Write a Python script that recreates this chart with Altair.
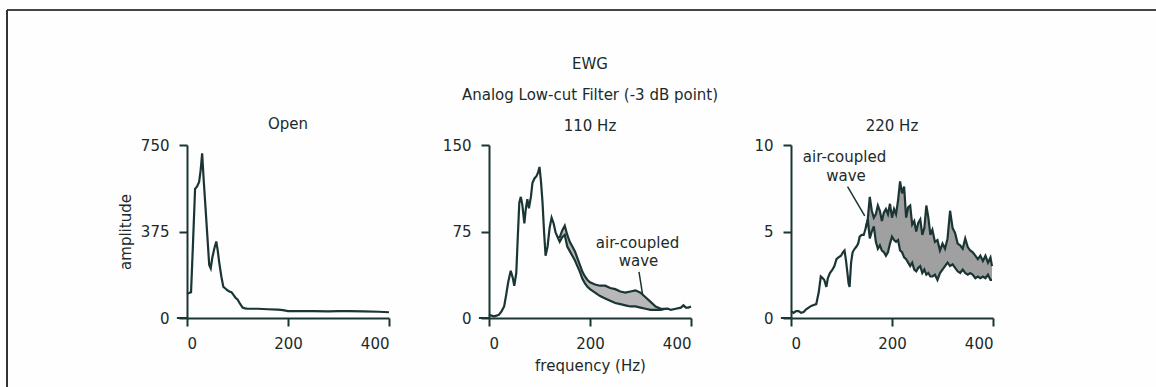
import altair as alt
import pandas as pd

# ---------------- data ----------------
open_freq = [0, 4, 8, 12, 16, 20, 24, 27, 30, 33, 36, 40, 44, 47, 50, 54, 58, 61, 64, 68, 72,
             76, 80, 84, 88, 92, 96, 100, 105, 110, 115, 120, 140, 160, 180, 190, 200, 220,
             250, 280, 300, 320, 350, 380, 400]
open_amp = [105, 108, 112, 330, 560, 570, 590, 640, 714, 600, 500, 365, 230, 215, 260, 300,
            332, 290, 238, 180, 135, 128, 120, 115, 112, 100, 88, 80, 62, 45, 42, 40, 40, 38,
            36, 34, 30, 30, 30, 29, 30, 30, 29, 27, 25]

# 110 Hz panel
f110_common_freq = [0, 5, 10, 15, 20, 25, 30, 34, 38, 43, 47, 50, 54, 57, 60, 63, 66, 70, 73,
                    76, 79, 83, 86, 90, 94, 97, 100, 103, 106, 109, 112, 116, 120, 124, 128,
                    132, 136]
f110_common_amp = [3, 2, 1.5, 2, 3, 6, 10, 20, 31, 41, 35, 28, 39, 70, 100, 105, 98, 82, 95,
                   103, 95, 105, 117, 121, 123, 126, 131, 118, 100, 75, 54, 62, 78, 87, 82,
                   74, 70]
f110_seg_freq = [140, 145, 150, 155, 160, 165, 170, 175, 180, 185, 190, 195, 200, 210, 220,
                 230, 240, 250, 260, 270, 280, 290, 300, 310, 320, 330, 340, 350]
f110_upper = [70, 76, 80, 72, 66, 62, 58, 52, 46, 40, 36, 33, 31, 29, 28, 28, 26, 25, 23, 22,
              23, 24, 22, 18, 14, 10, 8, 8]
f110_lower = [66, 70, 72, 62, 58, 54, 50, 45, 40, 34, 30, 27, 25, 22, 19, 17, 15, 13, 12, 11,
              10, 10, 9, 8, 7, 7, 7, 8]
f110_tail_freq = [355, 360, 370, 380, 385, 390, 395, 400]
f110_tail_amp = [8, 7, 8, 9, 11, 9, 9, 10]

# 220 Hz panel
f220_common_freq = [0, 5, 10, 15, 20, 25, 30, 35, 40, 45, 50, 55, 59, 63, 66, 70, 73, 77, 82,
                    86, 90, 94, 99, 103, 106, 109, 111, 114, 116, 119, 122, 126, 129, 133, 136,
                    140, 144, 148]
f220_common_amp = [0.4, 0.3, 0.4, 0.4, 0.3, 0.35, 0.5, 0.6, 0.7, 0.75, 0.8, 1.5, 2.4, 2.3, 2.2,
                   1.8, 2.3, 2.6, 2.8, 3.0, 3.4, 3.5, 3.6, 3.8, 3.9, 3.3, 2.8, 2.0, 1.8, 3.2,
                   3.8, 4.0, 4.1, 4.3, 4.7, 4.8, 4.8, 5.2]
f220_seg_freq = [152, 156, 160, 164, 168, 172, 176, 180, 184, 188, 192, 196, 200, 204, 208,
                 212, 216, 220, 224, 228, 232, 236, 240, 244, 248, 252, 256, 260, 264, 268,
                 272, 276, 280, 285, 290, 295, 300, 305, 310, 315, 320, 325, 330, 335, 340,
                 345, 350, 355, 360, 365, 370, 375, 380, 385, 390, 395, 398]
f220_upper = [5.7, 7.0, 6.2, 5.8, 6.0, 6.5, 6.2, 5.6, 6.1, 6.3, 6.0, 6.6, 5.8, 6.3, 6.0, 6.8,
              7.9, 7.2, 7.6, 5.8, 6.4, 6.5, 5.4, 5.6, 5.0, 5.5, 5.7, 4.8, 5.2, 6.5, 5.8, 4.8,
              5.1, 4.4, 4.5, 3.9, 4.3, 4.0, 4.6, 6.2, 5.2, 4.9, 4.3, 4.2, 4.0, 4.6, 4.1, 3.9,
              3.8, 3.6, 3.4, 3.6, 3.3, 3.6, 3.2, 3.5, 3.0]
f220_lower = [5.7, 4.6, 5.0, 5.3, 4.4, 4.0, 4.2, 3.9, 3.8, 3.6, 3.8, 4.3, 4.7, 4.5, 4.4, 4.5,
              3.9, 3.8, 3.5, 3.4, 3.2, 3.0, 3.2, 2.8, 2.7, 2.9, 3.0, 2.6, 2.8, 2.5, 2.6, 2.4,
              2.4, 2.5, 2.2, 2.6, 2.8, 3.0, 3.2, 3.0, 3.1, 2.9, 2.7, 2.6, 2.8, 2.6, 2.5, 2.6,
              2.5, 2.3, 2.4, 2.3, 2.4, 2.3, 2.5, 2.2, 2.2]

panel_titles = ["Open", "110 Hz", "220 Hz"]
y_max = [750, 150, 10]
y_ticks = [[0, 375, 750], [0, 75, 150], [0, 5, 10]]
x_ticks = [0, 200, 400]

# annotation text positions (data units)
ann110 = pd.DataFrame({"f": [294, 296], "a": [65, 49], "t": ["air-coupled", "wave"]})
lead110 = pd.DataFrame({"f": [297], "a": [40], "f2": [304], "a2": [21]})
ann220 = pd.DataFrame({"f": [106, 109], "a": [9.3, 8.2], "t": ["air-coupled", "wave"]})
lead220 = pd.DataFrame({"f": [112], "a": [7.6], "f2": [146], "a2": [5.9]})

# ---------------- style ----------------
INK = "#1b3535"
TXT = "#1c2a2a"
FONT = "DejaVu Sans"
W, H = 202, 173
LW = 2.2


def xenc(title=None):
    return alt.X("f:Q", scale=alt.Scale(domain=[0, 400], nice=False),
                 axis=alt.Axis(values=x_ticks, title=title))


def yenc(i, title=None):
    return alt.Y("a:Q", scale=alt.Scale(domain=[0, y_max[i]], nice=False),
                 axis=alt.Axis(values=y_ticks[i], title=title))


def baseline_ext(i, xtitle=None, ytitle=None):
    d = pd.DataFrame({"f": [-20], "f2": [0], "a": [0]})
    return alt.Chart(d).mark_rule(color=INK, strokeWidth=2).encode(
        x=xenc(xtitle), x2="f2:Q", y=yenc(i, ytitle))


# panel 1
df_open = pd.DataFrame({"f": open_freq, "a": open_amp})
p1_line = alt.Chart(df_open).mark_line(color=INK, strokeWidth=LW).encode(
    x=xenc(), y=yenc(0, "amplitude"))
one = pd.DataFrame({"t": [panel_titles[0]]})
p1_title = alt.Chart(one).mark_text(font=FONT, fontSize=15, color=TXT,
                                    baseline="alphabetic").encode(
    x=alt.value(W / 2), y=alt.value(-16), text="t:N")
border_top = alt.Chart(one).mark_rule(color="#444444", strokeWidth=2).encode(
    x=alt.value(-180), x2=alt.value(1000), y=alt.value(-135))
border_left = alt.Chart(one).mark_rule(color="#333333", strokeWidth=2).encode(
    x=alt.value(-180), y=alt.value(-135), y2=alt.value(260))
p1 = alt.layer(p1_line, baseline_ext(0, None, "amplitude"), p1_title, border_top,
               border_left).properties(width=W, height=H)


def seg_panel(i, cf, ca, sf, up, lo, tf, ta, ann, lead, xtitle, title, fill):
    main = pd.DataFrame({"f": cf + sf + tf, "a": ca + up + ta})
    low = pd.DataFrame({"f": [cf[-1]] + sf + ([tf[0]] if tf else []),
                        "a": [ca[-1]] + lo + ([ta[0]] if ta else [])})
    band = pd.DataFrame({"f": sf, "a": lo, "a2": up})
    area = alt.Chart(band).mark_area(color=fill).encode(
        x=xenc(xtitle), y=yenc(i), y2="a2:Q")
    l1 = alt.Chart(main).mark_line(color=INK, strokeWidth=LW).encode(
        x=xenc(xtitle), y=yenc(i))
    l2 = alt.Chart(low).mark_line(color=INK, strokeWidth=LW).encode(
        x=xenc(xtitle), y=yenc(i))
    txt = alt.Chart(ann).mark_text(font=FONT, fontSize=15, color=TXT).encode(
        x=xenc(xtitle), y=yenc(i), text="t:N")
    ld = alt.Chart(lead).mark_rule(color=INK, strokeWidth=1.5).encode(
        x=xenc(xtitle), y=yenc(i), x2="f2:Q", y2="a2:Q")
    return alt.layer(area, l1, l2, baseline_ext(i, xtitle), ld, txt).properties(
        width=W, height=H, title=title)


p2 = seg_panel(1, f110_common_freq, f110_common_amp, f110_seg_freq, f110_upper, f110_lower,
               f110_tail_freq, f110_tail_amp, ann110, lead110, "frequency (Hz)",
               alt.TitleParams(["EWG", "Analog Low-cut Filter (-3 dB point)", panel_titles[1]],
                               lineHeight=31), "#b8b8b8")
p3 = seg_panel(2, f220_common_freq, f220_common_amp, f220_seg_freq, f220_upper, f220_lower,
               [], [], ann220, lead220, None, alt.TitleParams(panel_titles[2]), "#a0a0a0")

chart = alt.hconcat(p1, p2, p3, spacing=100, bounds="flush").properties(
    autosize=alt.AutoSizeParams(type="none"),
    padding={"left": 187, "top": 145, "right": 969, "bottom": 242},
    background="#fdfefd",
).configure_view(stroke=None).configure_axis(
    grid=False, domainColor=INK, domainWidth=2, tickColor=INK, tickWidth=2, tickSize=8,
    labelFont=FONT, labelFontSize=15, labelColor=TXT, labelPadding=10,
    titleFont=FONT, titleFontSize=15, titleColor=TXT, titleFontWeight="normal",
    titlePadding=7,
).configure_title(
    font=FONT, fontSize=15, color=TXT, fontWeight="normal", anchor="middle", offset=4,
)

chart.save("out.html", embed_options={"renderer": "svg", "actions": False})
